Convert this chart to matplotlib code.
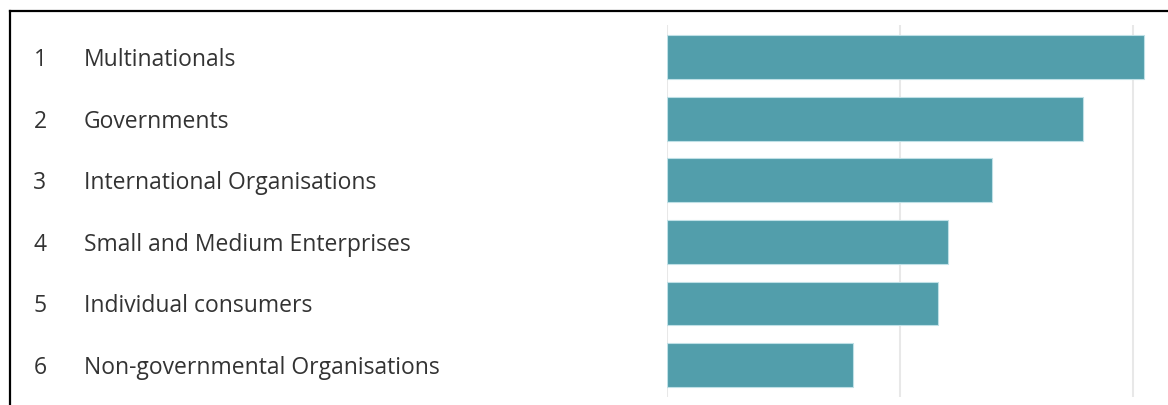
import matplotlib.pyplot as plt
import matplotlib.transforms as mtransforms
from matplotlib.lines import Line2D

# ranking of stakeholder groups
ranks = [1, 2, 3, 4, 5, 6]
groups = [
    "Multinationals",
    "Governments",
    "International Organisations",
    "Small and Medium Enterprises",
    "Individual consumers",
    "Non-governmental Organisations",
]
scores = [41.0, 35.7, 27.9, 24.1, 23.3, 16.0]
grid_ticks = [0, 20, 40]

bar_color = "#529EAB"
text_color = "#333333"

plt.rcParams["font.family"] = ["Open Sans", "DejaVu Sans"]

fig = plt.figure(figsize=(11.68, 4.05), dpi=100)
ax = fig.add_axes([0.571, 0.0198, 0.4187, 0.918])

y = list(range(len(groups)))
ax.barh(y, scores, height=0.71, color=bar_color, edgecolor="#bfe0e6",
        linewidth=0.8, zorder=3)

ax.set_xlim(0, 42)
ax.set_ylim(len(groups) - 0.48, -0.52)
ax.set_xticks(grid_ticks)
ax.set_yticks([])
ax.grid(axis="x", color="#e8e8e8", linewidth=1.5, zorder=0)
ax.tick_params(axis="x", length=0, labelbottom=False)
for s in ax.spines.values():
    s.set_visible(False)

# rank numbers and names on the left, aligned with the bars
trans = mtransforms.blended_transform_factory(fig.transFigure, ax.transData)
for yi, r, g in zip(y, ranks, groups):
    ax.text(40 / 1168, yi + 0.05, str(r), transform=trans, ha="center",
            va="center", fontsize=16.5, color=text_color)
    ax.text(84 / 1168, yi + 0.05, g, transform=trans, ha="left",
            va="center", fontsize=16.5, color=text_color)

# frame edges along the top and left
fig.add_artist(Line2D([10 / 1168, 1], [1 - 11 / 405, 1 - 11 / 405],
                      transform=fig.transFigure, color="black", linewidth=1.6))
fig.add_artist(Line2D([10 / 1168, 10 / 1168], [0, 1 - 11 / 405],
                      transform=fig.transFigure, color="black", linewidth=1.6))

fig.savefig("out.png", dpi=100, facecolor="white")
